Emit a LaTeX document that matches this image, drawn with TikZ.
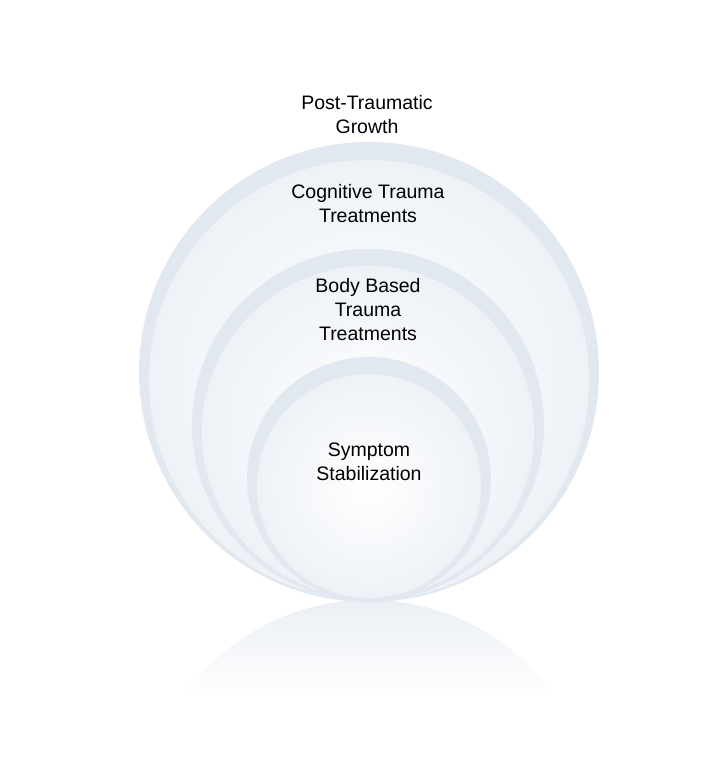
\documentclass[tikz,border=0pt]{standalone}
\usepackage{fontspec}
\setmainfont{Liberation Sans}
\definecolor{ring}{HTML}{E2E8F0}
\definecolor{haze}{HTML}{EEF2F7}

\begin{document}
\begin{tikzpicture}[x=1pt,y=-1pt]
	
	\useasboundingbox (0,0) rectangle (717,762);
	\tikzset{label/.style={align=center,font=\fontsize{19.5}{24}\selectfont}}
	
	% reflection
	\begin{scope}
		\clip (369,828) circle (228);
		\shade[top color=ring!70, bottom color=white] (140,600) rectangle (600,700);
	\end{scope}
	
	% rings, all resting on the same line
	\fill[ring] (369,372) circle (230);
	\shade[inner color=white, outer color=haze] (369,380) circle (220);
	\fill[ring] (368,425) circle (176);
	\shade[inner color=white, outer color=haze] (368,432) circle (166);
	\fill[ring] (369,479) circle (122);
	\shade[inner color=white, outer color=haze] (369,486) circle (112);
	
	\node[label] (growth)    at (367, 115) {Post-Traumatic\\Growth};
	\node[label] (cognitive) at (368, 204) {Cognitive Trauma\\Treatments};
	\node[label] (body)      at (368, 310) {Body Based\\Trauma\\Treatments};
	\node[label] (symptom)   at (369, 462) {Symptom\\Stabilization};
	
\end{tikzpicture}
\end{document}
